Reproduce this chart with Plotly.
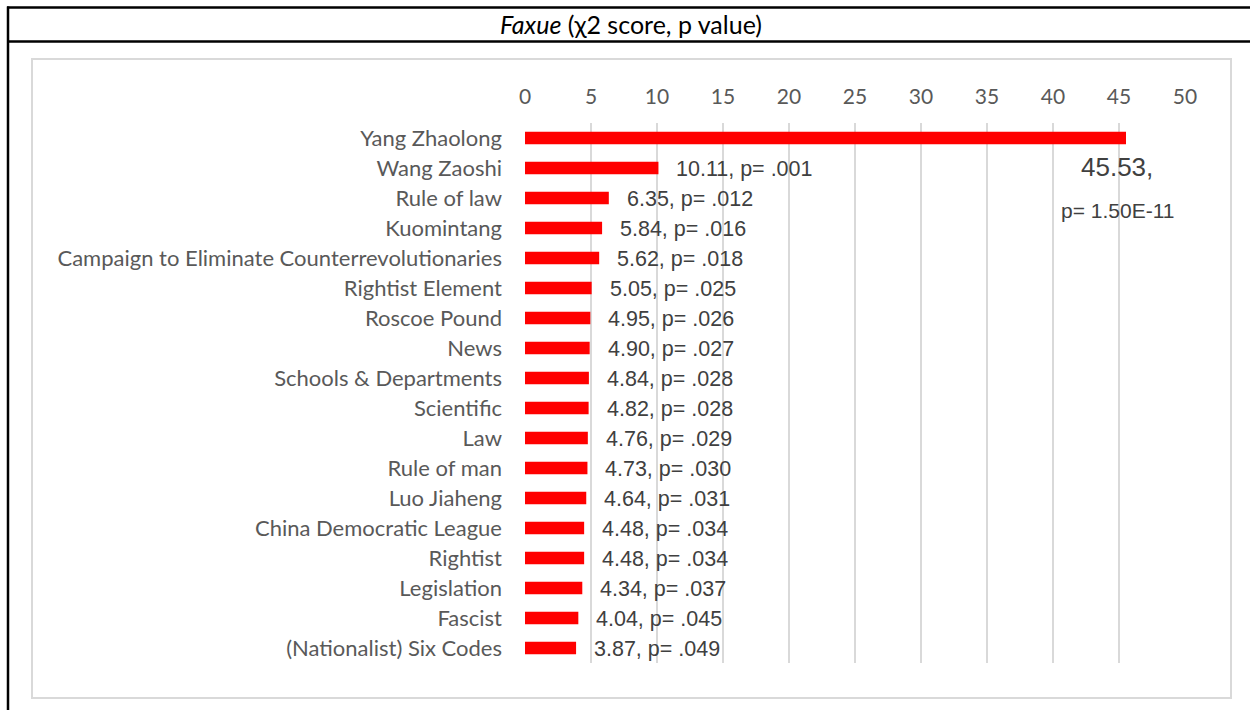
import plotly.graph_objects as go

categories = ["Yang Zhaolong", "Wang Zaoshi", "Rule of law", "Kuomintang",
              "Campaign to Eliminate Counterrevolutionaries", "Rightist Element",
              "Roscoe Pound", "News", "Schools & Departments", "Scientific", "Law",
              "Rule of man", "Luo Jiaheng", "China Democratic League", "Rightist",
              "Legislation", "Fascist", "(Nationalist) Six Codes"]
chi2 = [45.53, 10.11, 6.35, 5.84, 5.62, 5.05, 4.95, 4.90, 4.84, 4.82, 4.76,
        4.73, 4.64, 4.48, 4.48, 4.34, 4.04, 3.87]
pvals = ["1.50E-11", ".001", ".012", ".016", ".018", ".025", ".026", ".027",
         ".028", ".028", ".029", ".030", ".031", ".034", ".034", ".037", ".045", ".049"]
x_ticks = [0, 5, 10, 15, 20, 25, 30, 35, 40, 45, 50]
title_main = "Faxue"
title_rest = " (χ2 score, p value)"

W, H = 1250, 710
def px(x):
    return x / W
def py(y):
    return 1 - y / H

CAT_FONT = "Lato, 'Open Sans', sans-serif"
LBL_FONT = "'Liberation Sans', Arial, sans-serif"

fig = go.Figure()
fig.add_trace(go.Bar(
    x=chi2, y=categories, orientation="h",
    marker=dict(color="#ff0000", line=dict(width=0)),
    width=0.42, hoverinfo="skip",
))

annotations = []
for i, (c, v, p) in enumerate(zip(categories, chi2, pvals)):
    if i == 0:
        annotations.append(dict(x=v, y=c, xref="x", yref="y", text=f"{v:.2f},",
                                showarrow=False, xanchor="center", yanchor="middle",
                                xshift=-9, yshift=-29,
                                font=dict(family=LBL_FONT, size=26, color="#404040")))
        annotations.append(dict(x=v, y=c, xref="x", yref="y", text=f"p= {p}",
                                showarrow=False, xanchor="center", yanchor="middle",
                                xshift=-9, yshift=-72,
                                font=dict(family=LBL_FONT, size=21, color="#404040")))
    else:
        annotations.append(dict(x=v, y=c, xref="x", yref="y", text=f"{v:.2f}, p= {p}",
                                showarrow=False, xanchor="left", yanchor="middle",
                                xshift=16, yshift=-1,
                                font=dict(family=LBL_FONT, size=21.5, color="#404040")))

# title
annotations.append(dict(x=px(631), y=py(24), xref="paper", yref="paper",
                        text=f"<i>{title_main}</i>{title_rest}", showarrow=False,
                        xanchor="center", yanchor="middle",
                        font=dict(family=CAT_FONT, size=25, color="#000000")))

shapes = [
    # chart box
    dict(type="rect", xref="paper", yref="paper", x0=px(32), x1=px(1231),
         y0=py(698), y1=py(59), line=dict(color="#d9d9d9", width=2), layer="below"),
    # table lines
    dict(type="line", xref="paper", yref="paper", x0=px(7), x1=px(1250),
         y0=py(7.5), y1=py(7.5), line=dict(color="#000000", width=2.5)),
    dict(type="line", xref="paper", yref="paper", x0=px(7), x1=px(1250),
         y0=py(41.5), y1=py(41.5), line=dict(color="#000000", width=2.5)),
    dict(type="line", xref="paper", yref="paper", x0=px(8), x1=px(8),
         y0=py(6.5), y1=py(710), line=dict(color="#000000", width=2.5)),
]

fig.update_layout(
    width=W, height=H, autosize=False,
    margin=dict(l=0, r=0, t=0, b=0, pad=0, autoexpand=False),
    paper_bgcolor="white", plot_bgcolor="white",
    showlegend=False,
    annotations=annotations,
    shapes=shapes,
    xaxis=dict(
        domain=[px(525), px(1185)], range=[0, 50], side="top",
        tickvals=x_ticks, ticktext=[str(t) for t in x_ticks],
        showgrid=True, gridcolor="#d9d9d9", gridwidth=2,
        zeroline=False, showline=False, ticks="",
        ticklabelstandoff=14, automargin=False,
        tickfont=dict(family=CAT_FONT, size=21, color="#595959"),
        fixedrange=True,
    ),
    yaxis=dict(
        domain=[py(663), py(123)], range=[len(categories) - 0.5, -0.5],
        autorange=False,
        categoryorder="array", categoryarray=categories,
        showgrid=False, zeroline=False, showline=False, ticks="",
        ticklabelstandoff=22, automargin=False,
        tickfont=dict(family=CAT_FONT, size=22, color="#595959"),
        fixedrange=True,
    ),
)

fig.write_html("out.html", config={"displayModeBar": False},
               post_script="document.body.style.margin='0';document.body.style.overflow='hidden';")
